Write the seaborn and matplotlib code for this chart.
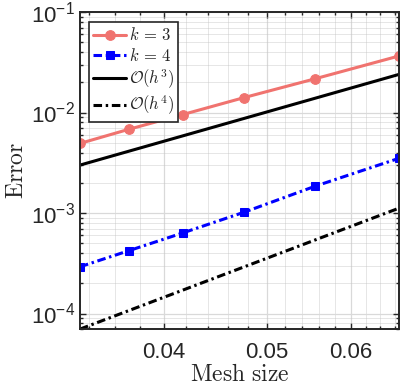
import numpy as np
import pandas as pd
import matplotlib
matplotlib.use('Agg')
import matplotlib.pyplot as plt
import matplotlib.ticker as mticker
import seaborn as sns

# ---- data ----
mesh_h = [1/30, 1/27, 1/24, 1/21, 1/18, 1/15]
err_k3 = [4.93e-3, 6.80e-3, 9.55e-3, 1.41e-2, 2.17e-2, 3.66e-2]
err_k4 = [2.92e-4, 4.21e-4, 6.34e-4, 1.02e-3, 1.85e-3, 3.51e-3]
ref_h = [1/30, 1/15]
ref_h3 = [3.0e-3, 2.4e-2]
ref_h4 = [7.0e-5, 1.12e-3]

x_ticks = [0.04, 0.05, 0.06]
y_ticks = [1e-4, 1e-3, 1e-2, 1e-1]

sns.set_theme(style='ticks')
plt.rcParams['font.family'] = ['Liberation Sans', 'DejaVu Sans']
plt.rcParams['mathtext.fontset'] = 'cm'

df3 = pd.DataFrame({'h': mesh_h, 'err': err_k3})
df4 = pd.DataFrame({'h': mesh_h, 'err': err_k4})
dr3 = pd.DataFrame({'h': ref_h, 'err': ref_h3})
dr4 = pd.DataFrame({'h': ref_h, 'err': ref_h4})

fig = plt.figure(figsize=(4.03, 3.89), dpi=100)
ax = fig.add_axes([0.1985, 0.154, 0.792, 0.815])

pink = '#F0736F'
dashdot = (0, (2.8, 1.2, 0.8, 1.2))
sns.lineplot(data=df3, x='h', y='err', ax=ax, color=pink, lw=2.2,
             marker='o', markersize=7, markeredgecolor=pink, label=r'$k\,=\,3$')
sns.lineplot(data=df4, x='h', y='err', ax=ax, color='#0000FF', lw=2.2,
             linestyle=dashdot, marker='s', markersize=6, markeredgecolor='#0000FF',
             label=r'$k\,=\,4$')
sns.lineplot(data=dr3, x='h', y='err', ax=ax, color='black', lw=2.2,
             label=r'$\mathcal{O}(h^3)$')
sns.lineplot(data=dr4, x='h', y='err', ax=ax, color='black', lw=2.2,
             linestyle=dashdot, label=r'$\mathcal{O}(h^4)$')

ax.set_xscale('log')
ax.set_yscale('log')
ax.set_xlim(1/30, 1/15)
ax.set_ylim(7.0e-5, 1e-1)

ax.xaxis.set_major_locator(mticker.FixedLocator(x_ticks))
ax.xaxis.set_major_formatter(mticker.FuncFormatter(lambda v, p: f'{v:.2f}'))
ax.xaxis.set_minor_locator(mticker.MultipleLocator(0.002))
ax.xaxis.set_minor_formatter(mticker.NullFormatter())
ax.yaxis.set_major_locator(mticker.FixedLocator(y_ticks))
ax.yaxis.set_major_formatter(mticker.FuncFormatter(
    lambda v, p: r'$\mathregular{10^{%d}}$' % int(round(np.log10(v)))))
ax.yaxis.set_minor_locator(mticker.LogLocator(base=10, subs=np.arange(2, 10), numticks=20))
ax.yaxis.set_minor_formatter(mticker.NullFormatter())

ax.grid(which='major', color='#d9d9d9', lw=0.9, ls='-')
ax.grid(which='minor', color='#c4c4c4', lw=0.6, ls=(0, (1.2, 1.2)))
ax.set_axisbelow(True)

for s in ax.spines.values():
    s.set_linewidth(1.4)
    s.set_color('#262626')
ax.tick_params(which='both', direction='in', top=True, right=True,
               colors='#262626', labelsize=16, width=1.0)
ax.tick_params(which='major', length=4)
ax.tick_params(which='minor', length=2.5)
ax.tick_params(axis='x', pad=9)

ax.set_xlabel(r'$\mathrm{Mesh\ size}$', fontsize=17, labelpad=1)
ax.set_ylabel(r'$\mathrm{Error}$', fontsize=17, labelpad=2)

leg = ax.legend(loc='upper left', bbox_to_anchor=(0.028, 0.968), borderaxespad=0,
                fontsize=12, frameon=True, fancybox=False, edgecolor='#262626',
                framealpha=1, handlelength=2.0, handletextpad=0.15,
                labelspacing=0.2, borderpad=0.25)
leg.get_frame().set_linewidth(1.2)

fig.savefig('out.png', dpi=100)
